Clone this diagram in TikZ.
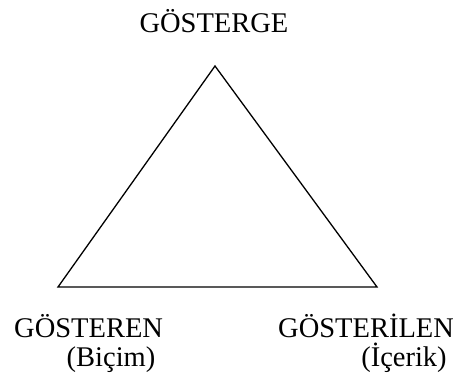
\documentclass[tikz,border=0pt]{standalone}
\usepackage{fontspec}
\setmainfont{Liberation Serif}
\usetikzlibrary{
	positioning,
	calc
}

\begin{document}
\begin{tikzpicture}[
		x=1pt, y=-1pt,
		term/.style={inner sep=0pt, font=\fontsize{28.5}{32}\selectfont},
		side/.style={line width=1.3pt, line join=miter}
		]
		
		\useasboundingbox (0,0) rectangle (453,376);
		
		\coordinate (top) at (215,66);
		\coordinate (form) at (58,287);
		\coordinate (content) at (377,287);
		
		\node[term, anchor=base] (sign) at (214,32) {GÖSTERGE};
		
		\node[term, anchor=base west] (signifier) at (14,337) {GÖSTEREN};
		\node[term, anchor=base] (formlbl) at (111,366) {(Biçim)};
		
		\node[term, anchor=base west] (signified) at (278,337) {GÖSTERİLEN};
		\node[term, anchor=base] (contentlbl) at (404,366) {(İçerik)};
		
		\draw[side] (top) -- (form) -- (content) -- cycle;
		
	\end{tikzpicture}
\end{document}
